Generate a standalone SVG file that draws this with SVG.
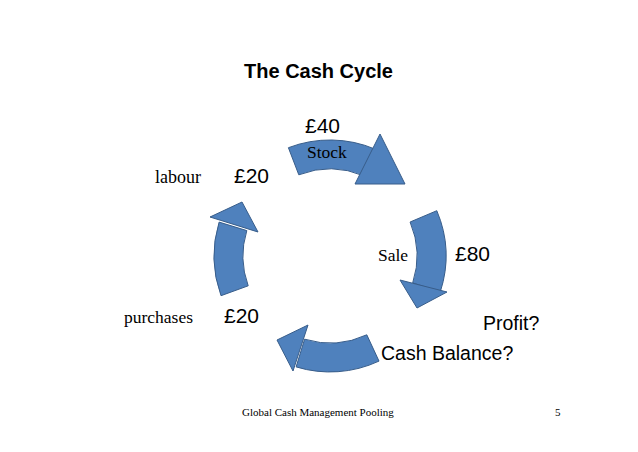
<svg xmlns="http://www.w3.org/2000/svg" width="638" height="452" viewBox="0 0 638 452">
<style>
.shape{fill:#4F81BD;stroke:#385D8A;stroke-width:1;stroke-linejoin:miter}
.sans{font-family:"Liberation Sans",Arial,sans-serif;fill:#000}
.serif{font-family:"Liberation Serif","Times New Roman",serif;fill:#000}
</style>
<rect width="638" height="452" fill="#fff"/>
<text class="sans" x="318.5" y="78" font-size="20" font-weight="bold" text-anchor="middle">The Cash Cycle</text>
<g id="connectors">
<g id="arrow-stock">
<path class="shape" d="M288.4,147.7 A116,116 0 0 1 375.3,149.2 L364.0,175.9 A87,87 0 0 0 298.8,174.8 Z"/>
<polygon class="shape" points="380,134 405,184 355,184"/>
</g>
<g id="arrow-sale">
<path class="shape" d="M436.8,210.7 A116,116 0 0 1 440.3,291.8 L412.7,282.9 A87,87 0 0 0 410.1,222.0 Z"/>
<polygon class="shape" points="400,280 447,292 417,308"/>
</g>
<g id="arrow-cash">
<path class="shape" d="M379.0,361.1 A116,116 0 0 1 296.1,366.9 L304.6,339.2 A87,87 0 0 0 366.8,334.8 Z"/>
<polygon class="shape" points="277,340 308,325 293,371"/>
</g>
<g id="arrow-purchases">
<path class="shape" d="M221.0,295.7 A116,116 0 0 1 219.1,222.1 L246.8,230.6 A87,87 0 0 0 248.2,285.8 Z"/>
<polygon class="shape" points="210,217 242,202 258,232"/>
</g>
</g>
<g id="node-stock">
<text class="sans" x="305" y="133" font-size="21">£40</text>
<text class="serif" x="307" y="158" font-size="17.5">Stock</text>
</g>
<g id="node-labour">
<text class="serif" x="155" y="183" font-size="18">labour</text>
<text class="sans" x="234" y="183" font-size="21">£20</text>
</g>
<g id="node-sale">
<text class="serif" x="378" y="261" font-size="17.5">Sale</text>
<text class="sans" x="455" y="261" font-size="21">£80</text>
</g>
<g id="node-purchases">
<text class="serif" x="124" y="323" font-size="17.5">purchases</text>
<text class="sans" x="224" y="323" font-size="21">£20</text>
</g>
<g id="node-profit">
<text class="sans" x="483" y="330" font-size="19.5">Profit?</text>
</g>
<g id="node-cash-balance">
<text class="sans" x="381" y="360" font-size="19.5">Cash Balance?</text>
</g>
<g id="footer">
<text class="serif" x="242" y="416" font-size="11">Global Cash Management Pooling</text>
<text class="serif" x="555" y="416" font-size="11">5</text>
</g>
</svg>
